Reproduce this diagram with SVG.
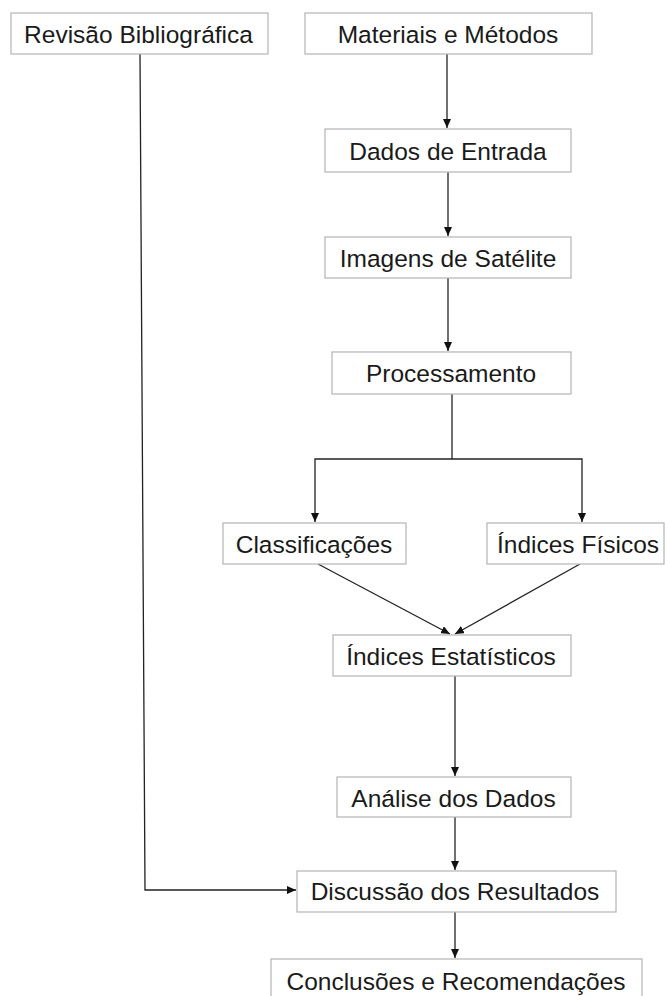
<svg xmlns="http://www.w3.org/2000/svg" width="665" height="996" viewBox="0 0 665 996">
<style>
.box{fill:#fff;stroke:#b4b4b4;stroke-width:1.2}
.lbl{font-family:"Liberation Sans",Arial,sans-serif;font-size:24.5px;fill:#1a1a1a;text-anchor:middle}
.con{fill:none;stroke:#222;stroke-width:1.3}
</style>
<defs>
<marker id="ah" markerUnits="userSpaceOnUse" markerWidth="9" markerHeight="8" refX="9" refY="4" orient="auto">
<path d="M0,0 L9,4 L0,8 z" fill="#111"/>
</marker>
</defs>
<rect width="665" height="996" fill="#fff"/>
<g id="connectors">
<polyline class="con" points="140,54 145,890 296,890" marker-end="url(#ah)"/>
<line class="con" x1="447" y1="54" x2="447" y2="128" marker-end="url(#ah)"/>
<line class="con" x1="448" y1="172" x2="448" y2="236" marker-end="url(#ah)"/>
<line class="con" x1="448" y1="278" x2="448" y2="351" marker-end="url(#ah)"/>
<line class="con" x1="452" y1="394" x2="452" y2="459"/>
<polyline class="con" points="452,459 315,459 315,522" marker-end="url(#ah)"/>
<polyline class="con" points="452,459 582,459 582,522" marker-end="url(#ah)"/>
<line class="con" x1="318" y1="564" x2="450" y2="634" marker-end="url(#ah)"/>
<line class="con" x1="580" y1="564" x2="455" y2="634" marker-end="url(#ah)"/>
<line class="con" x1="455" y1="676" x2="455" y2="776" marker-end="url(#ah)"/>
<line class="con" x1="455" y1="817" x2="455" y2="870" marker-end="url(#ah)"/>
<line class="con" x1="455" y1="912" x2="455" y2="958" marker-end="url(#ah)"/>
</g>
<g id="revisao"><rect class="box" x="11" y="13" width="257" height="41"/><text class="lbl" x="138.5" y="43">Revisão Bibliográfica</text></g>
<g id="materiais"><rect class="box" x="305" y="13" width="287" height="41"/><text class="lbl" x="448" y="43">Materiais e Métodos</text></g>
<g id="dados"><rect class="box" x="325" y="129" width="246" height="43"/><text class="lbl" x="448" y="160">Dados de Entrada</text></g>
<g id="imagens"><rect class="box" x="325" y="237" width="246" height="41"/><text class="lbl" x="448" y="267">Imagens de Satélite</text></g>
<g id="processamento"><rect class="box" x="332" y="352" width="239" height="42"/><text class="lbl" x="451" y="382">Processamento</text></g>
<g id="classificacoes"><rect class="box" x="223" y="523" width="183" height="41"/><text class="lbl" x="314" y="553">Classificações</text></g>
<g id="indices-fisicos"><rect class="box" x="487" y="523" width="177" height="41"/><text class="lbl" x="578" y="553">Índices Físicos</text></g>
<g id="indices-estatisticos"><rect class="box" x="333" y="635" width="238" height="41"/><text class="lbl" x="451" y="665">Índices Estatísticos</text></g>
<g id="analise"><rect class="box" x="337" y="777" width="234" height="40"/><text class="lbl" x="453.5" y="806.5">Análise dos Dados</text></g>
<g id="discussao"><rect class="box" x="297" y="871" width="319" height="41"/><text class="lbl" x="455" y="900">Discussão dos Resultados</text></g>
<g id="conclusoes"><rect class="box" x="271" y="959" width="371" height="45"/><text class="lbl" x="456" y="989.5">Conclusões e Recomendações</text></g>
</svg>
